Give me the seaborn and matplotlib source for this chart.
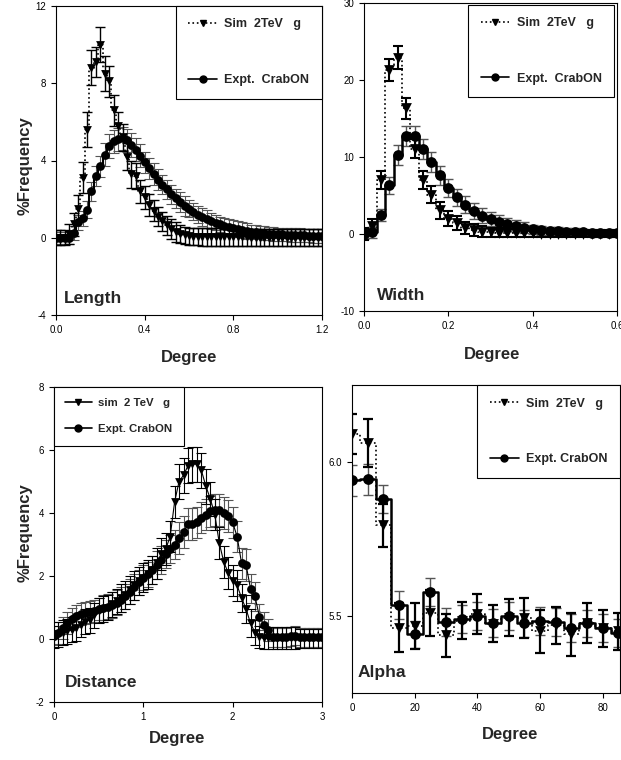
import numpy as np
import matplotlib.pyplot as plt
from matplotlib.lines import Line2D
import seaborn as sns

sns.set_style("ticks")
plt.rcParams['font.family'] = ['Liberation Sans', 'DejaVu Sans']
plt.rcParams['axes.linewidth'] = 0.8
plt.rcParams['xtick.labelsize'] = 7
plt.rcParams['ytick.labelsize'] = 7
plt.rcParams['xtick.major.width'] = 0.8
plt.rcParams['ytick.major.width'] = 0.8
plt.rcParams['xtick.major.size'] = 3.5
plt.rcParams['ytick.major.size'] = 3.5

# ---- Length ----
len_x = np.round(np.arange(0, 1.2001, 0.02), 2)
len_sim = [0.0, 0.0, 0.0, 0.2, 0.7, 1.5, 3.1, 5.6, 8.8, 9.1, 10.0, 8.5, 8.1, 6.6, 5.8,
           5.2, 4.2, 3.3, 3.2, 2.4, 2.1, 1.7, 1.4, 1.1, 0.85, 0.65, 0.45, 0.3, 0.2, 0.12,
           0.08, 0.06, 0.05, 0.04, 0.04, 0.03, 0.03, 0.03, 0.02, 0.02, 0.02, 0.02, 0.02,
           0.02, 0.01, 0.01, 0.01, 0.01, 0.01, 0.01, 0.01, 0.01, 0.01, 0.01, 0.01, 0.01,
           0.01, 0.01, 0.01, 0.01, 0.01]
len_sim_err = [0.4, 0.4, 0.4, 0.5, 0.6, 0.7, 0.8, 0.9, 0.9, 0.8, 0.9, 0.9, 0.8, 0.8, 0.7,
               0.7, 0.7, 0.7, 0.65, 0.6, 0.6, 0.55, 0.55, 0.5, 0.5, 0.5, 0.5, 0.5, 0.45, 0.45,
               0.45, 0.45, 0.45, 0.45, 0.45, 0.45, 0.45, 0.45, 0.45, 0.45, 0.45, 0.45, 0.45,
               0.45, 0.45, 0.45, 0.45, 0.45, 0.45, 0.45, 0.45, 0.45, 0.45, 0.45, 0.45, 0.45,
               0.45, 0.45, 0.45, 0.45, 0.45]
len_exp = [0.0, 0.0, 0.0, 0.0, 0.25, 0.8, 1.0, 1.45, 2.4, 3.2, 3.7, 4.3, 4.75, 5.0, 5.1,
           5.15, 5.05, 4.8, 4.55, 4.25, 3.9, 3.6, 3.3, 3.0, 2.75, 2.5, 2.25, 2.05, 1.85, 1.65,
           1.5, 1.35, 1.2, 1.08, 0.97, 0.87, 0.78, 0.7, 0.62, 0.56, 0.5, 0.45, 0.4, 0.36,
           0.32, 0.29, 0.26, 0.24, 0.22, 0.2, 0.18, 0.17, 0.16, 0.15, 0.14, 0.13, 0.12,
           0.11, 0.1, 0.1, 0.1]
len_exp_err = [0.3, 0.3, 0.3, 0.3, 0.35, 0.4, 0.4, 0.45, 0.5, 0.5, 0.55, 0.6, 0.6, 0.6, 0.6,
               0.6, 0.6, 0.6, 0.6, 0.6, 0.55, 0.55, 0.55, 0.55, 0.5, 0.5, 0.5, 0.5, 0.5, 0.5,
               0.45, 0.45, 0.45, 0.45, 0.45, 0.4, 0.4, 0.4, 0.4, 0.4, 0.4, 0.4, 0.4, 0.4,
               0.35, 0.35, 0.35, 0.35, 0.35, 0.35, 0.35, 0.35, 0.35, 0.35, 0.35, 0.35, 0.35,
               0.35, 0.35, 0.35, 0.35]

# ---- Width ----
wid_x = np.round(np.arange(0, 0.6001, 0.02), 2)
wid_sim = [0.0, 1.0, 7.0, 21.3, 22.9, 16.3, 11.1, 7.0, 5.1, 3.1, 2.0, 1.4, 0.8, 0.5, 0.3,
           0.2, 0.15, 0.1, 0.1, 0.1, 0.1, 0.05, 0.05, 0.05, 0.05, 0.05, 0.05, 0.05, 0.05,
           0.05, 0.05]
wid_sim_err = [0.8, 1.0, 1.2, 1.4, 1.5, 1.3, 1.2, 1.2, 1.1, 1.1, 1.0, 0.9, 0.8, 0.8, 0.7,
               0.6, 0.6, 0.5, 0.5, 0.5, 0.5, 0.5, 0.5, 0.5, 0.5, 0.5, 0.5, 0.5, 0.5, 0.5, 0.5]
wid_exp = [0.0, 0.2, 2.5, 6.3, 10.3, 12.7, 12.7, 11.1, 9.3, 7.6, 6.0, 4.8, 3.8, 3.0, 2.4,
           1.95, 1.55, 1.25, 1.0, 0.8, 0.6, 0.5, 0.4, 0.35, 0.3, 0.25, 0.2, 0.15, 0.12, 0.1,
           0.1]
wid_exp_err = [0.6, 0.7, 0.8, 1.1, 1.3, 1.3, 1.3, 1.3, 1.3, 1.2, 1.2, 1.1, 1.1, 1.0, 1.0,
               0.9, 0.9, 0.8, 0.8, 0.7, 0.6, 0.6, 0.5, 0.5, 0.5, 0.5, 0.4, 0.4, 0.4, 0.4, 0.4]

# ---- Distance ----
dis_x = np.round(np.arange(0, 3.0001, 0.05), 2)
dis_sim = [0.07, 0.15, 0.2, 0.25, 0.3, 0.35, 0.45, 0.55, 0.6, 0.75, 0.9, 0.95, 1.0, 1.1,
           1.2, 1.3, 1.4, 1.55, 1.7, 1.85, 1.95, 2.05, 2.2, 2.4, 2.7, 2.85, 3.25, 4.35, 5.0,
           5.2, 5.5, 5.55, 5.55, 5.35, 4.85, 4.45, 3.95, 3.05, 2.45, 2.1, 1.85, 1.7, 1.3,
           0.95, 0.5, 0.2, 0.05, 0.02, 0.02, 0.02, 0.02, 0.02, 0.02, 0.02, 0.02, 0.02, 0.02,
           0.02, 0.02, 0.02, 0.02]
dis_sim_err = [0.35, 0.4, 0.4, 0.4, 0.4, 0.4, 0.4, 0.4, 0.4, 0.4, 0.4, 0.4, 0.4, 0.4, 0.4,
               0.45, 0.45, 0.45, 0.45, 0.45, 0.45, 0.45, 0.45, 0.5, 0.5, 0.5, 0.5, 0.5, 0.55,
               0.55, 0.55, 0.55, 0.55, 0.55, 0.55, 0.55, 0.5, 0.5, 0.5, 0.5, 0.5, 0.5, 0.45,
               0.45, 0.45, 0.4, 0.35, 0.35, 0.35, 0.35, 0.35, 0.35, 0.35, 0.35, 0.35, 0.3,
               0.3, 0.3, 0.3, 0.3, 0.3]
dis_exp = [0.1, 0.2, 0.35, 0.5, 0.62, 0.72, 0.8, 0.82, 0.85, 0.9, 0.95, 1.0, 1.02, 1.08,
           1.15, 1.25, 1.35, 1.5, 1.65, 1.8, 1.95, 2.05, 2.2, 2.35, 2.5, 2.7, 2.85, 3.0, 3.2,
           3.4, 3.65, 3.65, 3.7, 3.85, 3.95, 4.05, 4.1, 4.1, 4.0, 3.9, 3.7, 3.25, 2.4, 2.35,
           1.6, 1.35, 0.7, 0.45, 0.3, 0.05, 0.05, 0.05, 0.05, 0.08, 0.1, 0.05, 0.05, 0.05,
           0.05, 0.05, 0.05]
dis_exp_err = [0.3, 0.35, 0.35, 0.35, 0.35, 0.35, 0.35, 0.35, 0.35, 0.35, 0.35, 0.4, 0.4,
               0.4, 0.4, 0.4, 0.4, 0.4, 0.4, 0.4, 0.4, 0.4, 0.45, 0.45, 0.45, 0.45, 0.45,
               0.45, 0.5, 0.5, 0.5, 0.5, 0.5, 0.5, 0.5, 0.5, 0.5, 0.5, 0.5, 0.5, 0.5, 0.5,
               0.5, 0.5, 0.45, 0.45, 0.4, 0.4, 0.35, 0.3, 0.3, 0.3, 0.3, 0.3, 0.3, 0.3, 0.3,
               0.3, 0.3, 0.3, 0.3]

# ---- Alpha ----
alp_x = list(range(0, 86, 5))
alp_sim = [6.09, 6.063, 5.795, 5.462, 5.467, 5.51, 5.438, 5.485, 5.505, 5.475, 5.495,
           5.495, 5.45, 5.47, 5.44, 5.476, 5.46, 5.45]
alp_sim_err = [0.065, 0.078, 0.07, 0.08, 0.075, 0.075, 0.07, 0.06, 0.065, 0.06, 0.06,
               0.065, 0.07, 0.06, 0.07, 0.065, 0.06, 0.06]
alp_exp = [5.94, 5.944, 5.88, 5.535, 5.44, 5.578, 5.48, 5.49, 5.50, 5.478, 5.50, 5.476,
           5.483, 5.48, 5.46, 5.476, 5.46, 5.445]
alp_exp_err = [0.05, 0.05, 0.045, 0.045, 0.045, 0.045, 0.045, 0.045, 0.045, 0.045, 0.045,
               0.045, 0.045, 0.045, 0.045, 0.045, 0.045, 0.045]

fig = plt.figure(figsize=(6.21, 7.60), dpi=100)
W, H = 621.0, 760.0


def make_ax(l, r, t, b):
    return fig.add_axes([l / W, 1 - b / H, (r - l) / W, (b - t) / H])


def draw(ax, x, sim, sim_err, exp, exp_err, ms, sim_lw, exp_lw, sim_bar_lw, exp_bar_lw,
         steps=True, sim_ls=':'):
    ds = 'steps-mid' if steps else 'default'
    ax.errorbar(x, exp, yerr=exp_err, fmt='none', ecolor='#555555', elinewidth=exp_bar_lw,
                capsize=3.5, capthick=exp_bar_lw, zorder=2)
    ax.errorbar(x, sim, yerr=sim_err, fmt='none', ecolor='black', elinewidth=sim_bar_lw,
                capsize=3.5, capthick=sim_bar_lw, zorder=2)
    sns.lineplot(x=x, y=sim, ax=ax, color='black', linestyle=sim_ls, linewidth=sim_lw,
                 drawstyle=ds, errorbar=None, sort=False, zorder=3)
    sns.lineplot(x=x, y=exp, ax=ax, color='black', linestyle='-', linewidth=exp_lw,
                 drawstyle=ds, errorbar=None, sort=False, zorder=3)
    sns.scatterplot(x=x, y=sim, ax=ax, marker='v', s=ms, color='black', edgecolor='black',
                    linewidth=0, zorder=4)
    sns.scatterplot(x=x, y=exp, ax=ax, marker='o', s=ms, color='black', edgecolor='black',
                    linewidth=0, zorder=4)


def legend(ax, sim_label, exp_label, sim_ls, loc, spacing, bbox, size):
    h = [Line2D([], [], color='black', ls=sim_ls, lw=1.2, marker='v', ms=5),
         Line2D([], [], color='black', ls='-', lw=1.2, marker='o', ms=5)]
    lg = ax.legend(h, [sim_label, exp_label], loc=loc, bbox_to_anchor=bbox,
                   prop={'weight': 'bold', 'size': size}, frameon=True, fancybox=False,
                   edgecolor='black', framealpha=1, labelspacing=spacing, borderpad=1.0,
                   handlelength=2.3, handletextpad=0.6, borderaxespad=0)
    lg.get_frame().set_linewidth(0.8)


def style(ax, xlim, ylim, xt, xtl, yt, ytl, label, lx, ly):
    ax.set_xlim(*xlim)
    ax.set_ylim(*ylim)
    ax.set_xticks(xt)
    ax.set_xticklabels(xtl)
    ax.set_yticks(yt)
    ax.set_yticklabels(ytl)
    ax.set_xlabel('')
    ax.set_ylabel('')
    for s in ax.spines.values():
        s.set_color('black')
    ax.tick_params(direction='out', colors='black')
    ax.text(lx, ly, label, transform=ax.transAxes, fontsize=12.5, fontweight='bold')


# Length
ax1 = make_ax(56, 322, 6, 315)
draw(ax1, len_x, len_sim, len_sim_err, len_exp, len_exp_err, 40, 1.2, 1.5, 1.0, 0.8)
style(ax1, (0, 1.2), (-4, 12), [0, 0.4, 0.8, 1.2], ['0.0', '0.4', '0.8', '1.2'],
      [-4, 0, 4, 8, 12], ['-4', '0', '4', '8', '12'], 'Length', 0.03, 0.04)
legend(ax1, 'Sim  2TeV   g', 'Expt.  CrabON', ':', 'upper right', 3.5, (1.0, 1.0), 9)

# Width
ax2 = make_ax(364, 617, 3, 311)
draw(ax2, wid_x, wid_sim, wid_sim_err, wid_exp, wid_exp_err, 60, 1.2, 1.8, 1.5, 1.0)
style(ax2, (0, 0.6), (-10, 30), [0, 0.2, 0.4, 0.6], ['0.0', '0.2', '0.4', '0.6'],
      [-10, 0, 10, 20, 30], ['-10', '0', '10', '20', '30'], 'Width', 0.05, 0.036)
legend(ax2, 'Sim  2TeV   g', 'Expt.  CrabON', ':', 'upper right', 3.5, (0.99, 0.995), 9)

# Distance
ax3 = make_ax(54, 322, 387, 702)
draw(ax3, dis_x, dis_sim, dis_sim_err, dis_exp, dis_exp_err, 40, 0.8, 0.8, 0.8, 0.8,
     steps=False, sim_ls='-')
style(ax3, (0, 3), (-2, 8), [0, 1, 2, 3], ['0', '1', '2', '3'],
      [-2, 0, 2, 4, 6, 8], ['-2', '0', '2', '4', '6', '8'], 'Distance', 0.04, 0.048)
legend(ax3, 'sim  2 TeV   g', 'Expt. CrabON', '-', 'upper left', 1.4, (0.0, 1.0), 8.2)

# Alpha
ax4 = make_ax(352, 620, 385, 693)
draw(ax4, alp_x, alp_sim, alp_sim_err, alp_exp, alp_exp_err, 60, 1.2, 1.8, 1.6, 1.0)
style(ax4, (0, 85.5), (5.25, 6.25), [0, 20, 40, 60, 80], ['0', '20', '40', '60', '80'],
      [5.5, 6.0], ['5.5', '6.0'], 'Alpha', 0.02, 0.052)
legend(ax4, 'Sim  2TeV   g', 'Expt. CrabON', ':', 'upper right', 3.5, (1.0, 1.0), 9)

# axis titles
lab = dict(fontsize=12, fontweight='bold', ha='center', va='center')
fig.text(25 / W, 1 - 166 / H, '%Frequency', rotation=90, **lab)
fig.text(25 / W, 1 - 533 / H, '%Frequency', rotation=90, **lab)
fig.text(189 / W, 1 - 357 / H, 'Degree', **lab)
fig.text(492 / W, 1 - 355 / H, 'Degree', **lab)
fig.text(177 / W, 1 - 738 / H, 'Degree', **lab)
fig.text(510 / W, 1 - 734 / H, 'Degree', **lab)

fig.savefig('out.png', dpi=100)
